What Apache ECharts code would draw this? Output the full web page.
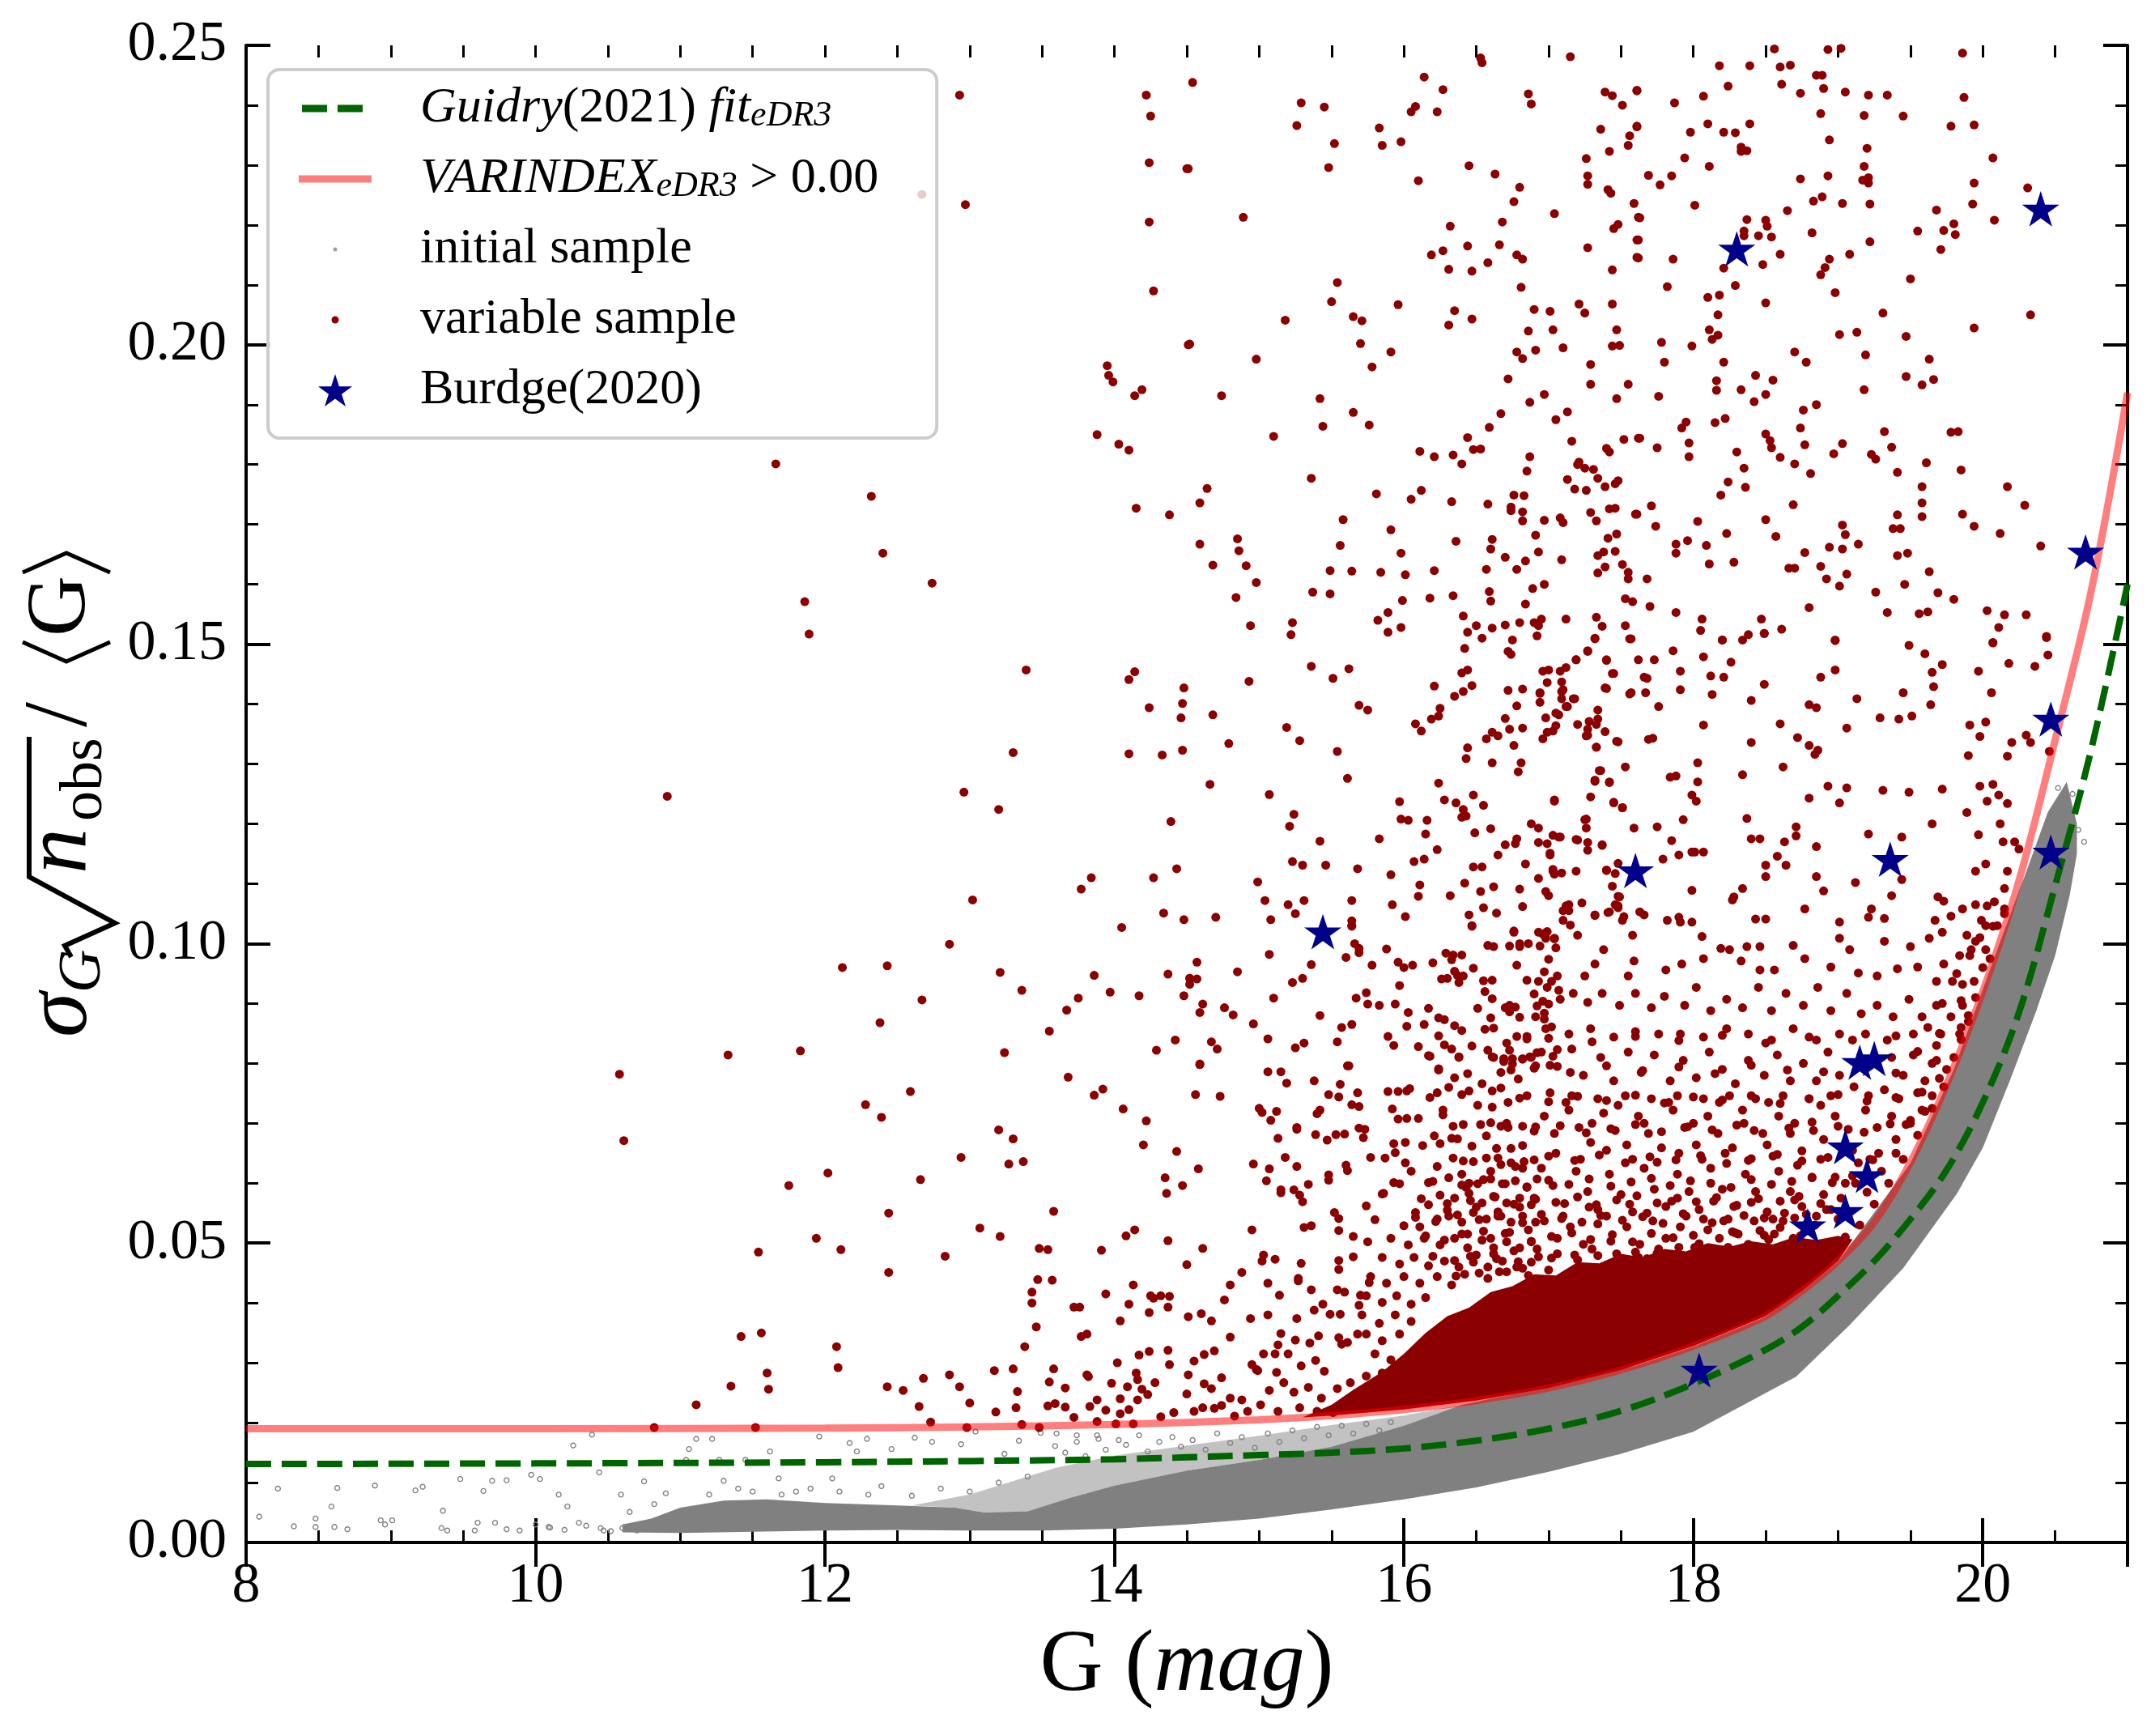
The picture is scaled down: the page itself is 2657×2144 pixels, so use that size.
<!DOCTYPE html>
<html><head><meta charset="utf-8">
<script src="https://cdn.jsdelivr.net/npm/echarts@6/dist/echarts.min.js"></script>
<style>html,body{margin:0;padding:0;background:#fff}#c{width:2657px;height:2144px}</style>
</head><body><div id="c"></div>
<script>
// ---------------- DATA ----------------
const xTicks = [8, 10, 12, 14, 16, 18, 20];
const yTicks = [0.00, 0.05, 0.10, 0.15, 0.20, 0.25];

// fitted curves
const redLineG = [8, 10, 12, 13, 14, 15, 15.5, 16, 16.5, 17, 17.5, 18, 18.5, 18.75, 19, 19.25, 19.5, 19.75, 20, 20.25, 20.5, 20.75, 21];
const redLineV = [0.0190, 0.0190, 0.0191, 0.0193, 0.0197, 0.0205, 0.0212, 0.0222, 0.0237, 0.0258, 0.0288, 0.0328, 0.0378, 0.0420, 0.0470, 0.0535, 0.0635, 0.0765, 0.0920, 0.1105, 0.1340, 0.1590, 0.1920];
const greenLineG = [8, 10, 12, 13, 14, 15, 15.5, 16, 16.5, 17, 17.5, 18, 18.5, 18.75, 19, 19.25, 19.5, 19.75, 20, 20.25, 20.5, 20.75, 21];
const greenLineV = [0.0131, 0.0132, 0.0134, 0.0136, 0.0139, 0.0146, 0.0150, 0.0157, 0.0170, 0.0190, 0.0220, 0.0265, 0.0322, 0.0360, 0.0412, 0.0470, 0.0540, 0.0622, 0.0735, 0.0885, 0.1097, 0.1325, 0.1600];

// Burdge (2020) objects
const burdgeG = [15.44, 17.60, 18.04, 18.30, 18.79, 19.05, 19.05, 19.15, 19.20, 19.25, 19.36, 20.40, 20.47, 20.47, 20.71];
const burdgeV = [0.1020, 0.1122, 0.0288, 0.2160, 0.0529, 0.0553, 0.0661, 0.0802, 0.0613, 0.0808, 0.1141, 0.2227, 0.1375, 0.1153, 0.1654];

// outline of the saturated part of the initial-sample cloud
const grayLower = [[10.6,0.0017],[11,0.0016],[11.5,0.0018],[12,0.0020],[12.5,0.0021],[13,0.0020],[13.5,0.0020],[14,0.0023],[14.5,0.0030],[15,0.0040],[15.5,0.0055],[16,0.0072],[16.5,0.0092],[17,0.0118],[17.5,0.0148],[18.0,0.0185],[18.34,0.0229],[18.71,0.0277],[19.08,0.0363],[19.45,0.0458],[19.82,0.0582],[20.0,0.0659],[20.19,0.0773],[20.37,0.0888],[20.5,0.0980],[20.6,0.1080],[20.65,0.1150]];
const grayTop = [[10.6,0.0030],[10.8,0.0040],[11.0,0.0058],[11.3,0.0070],[11.6,0.0072],[12.0,0.0066],[12.5,0.0062],[12.9,0.0058],[13.1,0.0050],[13.4,0.0052],[13.7,0.0075],[14.0,0.0095],[14.5,0.0120],[15.0,0.0138],[15.5,0.0160],[16.0,0.0195],[16.4,0.0230],[16.8,0.0250],[17.2,0.0270],[17.6,0.0295],[18.0,0.0327],[18.5,0.0377],[19.0,0.0469],[19.5,0.0633],[19.8,0.0790],[20.1,0.0990],[20.3,0.1120],[20.45,0.1220],[20.58,0.1270],[20.65,0.1200]];
const grayMidTop = [[12.6,0.0062],[13.0,0.0080],[13.6,0.0125],[14.0,0.0145],[14.5,0.0162],[15.0,0.0178],[15.5,0.0196],[16.0,0.0212],[16.4,0.0230]];
// outline of the saturated core of the variable sample
const redCoreTop = [[15.3,0.0209],[15.5,0.0230],[15.65,0.0255],[15.85,0.0285],[16.0,0.0315],[16.15,0.0350],[16.3,0.0378],[16.45,0.0392],[16.6,0.0418],[16.75,0.0428],[16.9,0.0448],[17.05,0.0446],[17.2,0.0468],[17.35,0.0466],[17.5,0.0482],[17.65,0.0476],[17.8,0.0490],[17.95,0.0486],[18.1,0.0500],[18.25,0.0494],[18.4,0.0503],[18.55,0.0498],[18.7,0.0510],[18.85,0.0505],[19.0,0.0512],[19.1,0.0506]];

// sparse initial-sample points
const grayDots = [[8.09,0.0043],[8.22,0.0090],[8.33,0.0027],[8.48,0.0040],[8.48,0.0026],[8.61,0.0026],[8.63,0.0091],[8.59,0.0060],[8.70,0.0022],[8.89,0.0095],[8.93,0.0037],[8.96,0.0030],[9.01,0.0037],[9.17,0.0087],[9.22,0.0093],[9.35,0.0024],[9.36,0.0053],[9.39,0.0020],[9.48,0.0106],[9.58,0.0020],[9.60,0.0033],[9.64,0.0086],[9.70,0.0103],[9.80,0.0104],[9.72,0.0033],[9.80,0.0022],[9.89,0.0020],[9.97,0.0113],[10.03,0.0106],[10.00,0.0030],[10.09,0.0026],[10.16,0.0080],[10.22,0.0060],[10.26,0.0162],[10.30,0.0033],[10.39,0.0180],[10.44,0.0117],[10.47,0.0020],[10.59,0.0080],[10.65,0.0051],[10.70,0.0020],[10.75,0.0102],[10.82,0.0064],[10.90,0.0082],[10.97,0.0027],[11.04,0.0138],[11.06,0.0156],[11.11,0.0173],[11.22,0.0173],[11.27,0.0138],[11.30,0.0103],[11.45,0.0138],[11.62,0.0152],[11.68,0.0107],[11.80,0.0085],[11.96,0.0177],[12.05,0.0107],[12.17,0.0166],[12.22,0.0152],[12.29,0.0173],[12.39,0.0094],[12.46,0.0156],[12.62,0.0175],[12.74,0.0168],[12.94,0.0164],[13.04,0.0185],[13.24,0.0148],[13.34,0.0170],[13.49,0.0183],[13.59,0.0161],[13.74,0.0179],[13.89,0.0173],
[10.10,0.0025],[10.20,0.0021],[10.35,0.0028],[10.45,0.0024],[10.52,0.0019],[10.60,0.0024],[10.85,0.0032],[11.00,0.0045],[11.20,0.0080],[11.40,0.0090],[11.50,0.0085],[11.70,0.0080],[11.90,0.0090],[12.10,0.0085],[12.30,0.0080],[12.60,0.0078],[12.80,0.0090],[13.00,0.0085],[13.20,0.0100],[13.40,0.0110],
[13.60,0.0182],[13.66,0.0150],[13.74,0.0168],[13.80,0.0144],[13.88,0.0179],[13.94,0.0155],[14.03,0.0171],[14.08,0.0163],[14.17,0.0179],[14.23,0.0152],[14.31,0.0168],[14.40,0.0176],[14.46,0.0160],[14.54,0.0171],[14.63,0.0155],[14.71,0.0182],[14.80,0.0166],[14.88,0.0176],[14.97,0.0158],[15.06,0.0182],[15.14,0.0168],[15.23,0.0187],[15.31,0.0174],[15.40,0.0193],[15.48,0.0179],[15.57,0.0195],[15.65,0.0182],[15.74,0.0198],[15.83,0.0187],[15.91,0.0201],
[20.55,0.1180],[20.58,0.1230],[20.62,0.1250],[20.60,0.1140],[20.66,0.1190],[20.70,0.1170],[20.52,0.1260],[20.48,0.1110],[20.42,0.1060],[20.35,0.0990]];

// variable-sample points, by region of the plot
const varDotsLeft = [[12.93,0.2417],[12.97,0.2234],[12.67,0.2251],[14.22,0.2417],[14.25,0.2382],[14.24,0.2304],[14.50,0.2294],[14.24,0.2205],[14.27,0.2090],[14.51,0.2000],[13.95,0.1965],[13.96,0.1949],[13.99,0.1938],[14.14,0.1915],[14.19,0.1925],[13.88,0.1850],[14.03,0.1834],[14.10,0.1824],[14.15,0.1727],[14.38,0.1716],[11.66,0.1801],[12.32,0.1747],[12.40,0.1652],[12.74,0.1602],[11.86,0.1571],[11.89,0.1517],[13.39,0.1457],[14.10,0.1441],[14.14,0.1454],[14.48,0.1427],[14.47,0.1401],[14.24,0.1394],[14.46,0.1377],[13.30,0.1319],[14.10,0.1317],[14.33,0.1315],[14.47,0.1323],[10.91,0.1246],[12.96,0.1253],[13.20,0.1224],[14.39,0.1204],[14.43,0.1125],[14.27,0.1110],[13.84,0.1110],[13.77,0.1091],[13.02,0.1073],[14.34,0.1051],[14.05,0.1027],[14.48,0.1040],[12.86,0.0999],[12.12,0.0960],[12.43,0.0963],[13.21,0.0952],[13.36,0.0922],[12.67,0.0906],[13.86,0.0947],[13.97,0.0919],[14.17,0.0913],[14.37,0.0949],[14.52,0.0942],[14.48,0.0913],[13.75,0.0909],[13.67,0.0889],[12.38,0.0868],[13.55,0.0854],[11.33,0.0814],[11.83,0.0821],[13.24,0.0818],[14.29,0.0822],[14.42,0.0839],[10.58,0.0782],[10.61,0.0671],[13.68,0.0777],[13.92,0.0757],[13.86,0.0747],[14.06,0.0724],[14.22,0.0704],[14.20,0.0664],[14.43,0.0653],[12.59,0.0753],[12.28,0.0731],[12.39,0.0710],[13.20,0.0689],[13.30,0.0674],[13.37,0.0636],[13.27,0.0632],[12.94,0.0643],[12.02,0.0617],[11.75,0.0596],[12.66,0.0606],[14.35,0.0609],[14.36,0.0583],[14.47,0.0596],[12.44,0.0550],[13.58,0.0553],[13.07,0.0525],[13.21,0.0511],[11.94,0.0508],[12.11,0.0489],[11.54,0.0485],[12.83,0.0478],[13.48,0.0491],[13.54,0.0489],[13.91,0.0488],[14.08,0.0512],[14.14,0.0522],[14.37,0.0504],[14.50,0.0464],[12.44,0.0451],[13.47,0.0439],[13.57,0.0438],[13.43,0.0418],[13.43,0.0400],[13.94,0.0415],[14.13,0.0430],[14.25,0.0412],[14.27,0.0408],[14.32,0.0412],[14.38,0.0411],[14.10,0.0398],[14.24,0.0384],[14.37,0.0393],[13.72,0.0393],[13.76,0.0393],[13.46,0.0360],[14.04,0.0370],[14.51,0.0377],[11.42,0.0344],[11.56,0.0350],[12.08,0.0327],[13.38,0.0327],[13.77,0.0344],[13.81,0.0348],[14.02,0.0300],[14.17,0.0313],[14.24,0.0319],[14.37,0.0321],[14.38,0.0297],[11.60,0.0283],[12.09,0.0292],[12.68,0.0274],[12.86,0.0280],[13.17,0.0287],[13.30,0.0290],[13.58,0.0290],[13.81,0.0280],[14.15,0.0283],[14.51,0.0280]];
const varDotsLow = [[10.82,0.0192],[11.11,0.0230],[11.35,0.0261],[11.52,0.0192],[11.61,0.0256],[12.43,0.0260],[12.54,0.0254],[12.93,0.0260],[12.65,0.0227],[13.00,0.0233],[12.73,0.0201],[12.98,0.0192],[13.18,0.0218],[13.33,0.0252],[13.32,0.0225],[13.36,0.0197],[13.48,0.0192],[13.55,0.0268],[13.54,0.0228],[13.59,0.0232],[13.66,0.0226],[13.83,0.0227],[13.88,0.0238],[13.94,0.0221],[14.04,0.0215],[14.10,0.0222],[14.16,0.0238],[14.19,0.0256],[14.23,0.0247],[14.28,0.0267],[14.50,0.0248],[13.72,0.0209],[13.88,0.0202],[14.01,0.0198],[14.13,0.0198],[14.32,0.0210],[14.41,0.0217],[13.98,0.0266],[14.09,0.0260],[13.66,0.0258],[13.82,0.0277],[14.04,0.0240],[14.16,0.0272]];
const varDotsMid = [[14.59,0.0798],[14.56,0.0748],[14.73,0.0745],[14.58,0.0624],[14.61,0.0491],[14.55,0.0303],[14.62,0.0314],[14.69,0.0320],[14.80,0.0343],[14.60,0.0382],[14.67,0.0370],[14.62,0.0265],[14.67,0.0257],[14.74,0.0275],[14.80,0.0241],[14.88,0.0238],[14.95,0.0297],[14.98,0.0289],[14.74,0.0229],[14.55,0.0219],[14.61,0.0225],[14.69,0.0224],[14.83,0.0211],[14.92,0.0219],[14.76,0.0405],[14.80,0.0430],[14.88,0.0451],[14.94,0.0374],
[15.06,0.0786],[15.15,0.0786],[15.19,0.0767],[15.38,0.0771],[15.56,0.0765],[15.61,0.0796],[15.48,0.0748],[15.55,0.0744],[15.68,0.0751],[15.64,0.0731],[15.69,0.0728],[15.42,0.0722],[15.40,0.0716],[15.00,0.0725],[15.02,0.0718],[15.12,0.0720],[15.08,0.0705],[15.26,0.0693],[15.26,0.0690],[15.13,0.0675],[15.39,0.0681],[15.47,0.0672],[15.53,0.0681],[15.59,0.0682],[15.69,0.0692],[15.73,0.0690],[15.72,0.0676],[15.18,0.0643],[14.96,0.0632],[15.07,0.0624],[15.26,0.0628],[15.60,0.0630],[15.61,0.0621],[15.48,0.0614],[15.48,0.0605],[15.05,0.0604],[15.15,0.0589],[15.15,0.0584],[15.24,0.0589],[15.28,0.0580],[15.30,0.0569],[15.34,0.0598],[15.74,0.0562],[15.52,0.0551],[15.55,0.0541],[14.95,0.0522],[15.31,0.0526],[15.36,0.0529],[15.55,0.0521],[15.65,0.0511],[15.80,0.0539],[15.86,0.0583],[15.03,0.0480],[15.11,0.0473],[15.02,0.0470],[15.29,0.0466],[15.55,0.0471],[15.65,0.0477],[15.75,0.0502],[15.55,0.0456],[15.27,0.0441],[15.27,0.0437],[15.06,0.0433],[15.14,0.0413],[15.36,0.0422],[15.54,0.0422],[15.59,0.0418],[15.76,0.0434],[15.70,0.0413],[15.69,0.0396],[15.06,0.0380],[15.26,0.0374],[15.38,0.0388],[15.44,0.0398],[15.49,0.0381],[15.56,0.0381],[15.15,0.0349],[15.25,0.0338],[15.35,0.0333],[15.41,0.0345],[15.55,0.0342],[15.57,0.0331],[15.68,0.0348],[15.61,0.0334],[15.03,0.0315],[15.13,0.0330],[15.11,0.0315],[15.20,0.0315],[15.29,0.0295],[15.39,0.0304],[15.45,0.0286],[14.99,0.0287],[15.12,0.0284],[15.17,0.0267],[15.07,0.0254],[15.24,0.0251],[15.34,0.0259],[15.43,0.0241],[15.54,0.0257],[15.63,0.0267],[15.74,0.0278],[15.80,0.0251],[15.68,0.0235],[15.57,0.0230],[15.28,0.0225],[15.01,0.0230],[15.13,0.0219],[15.40,0.0219],[15.51,0.0217],[15.74,0.0225],
[15.89,0.0753],[15.96,0.0753],[16.02,0.0754],[16.04,0.0758],[15.92,0.0724],[15.96,0.0707],[16.02,0.0708],[16.10,0.0708],[16.18,0.0743],[16.23,0.0751],[16.17,0.0813],[16.24,0.0789],[16.38,0.0810],[16.35,0.0776],[16.44,0.0783],[16.31,0.0760],[16.40,0.0748],[16.45,0.0754],[16.54,0.0766],[16.61,0.0754],[16.61,0.0811],[16.69,0.0808],[16.75,0.0808],[16.82,0.0807],[16.88,0.0810],[16.67,0.0785],[16.74,0.0789],[16.67,0.0759],[16.79,0.0774],[16.72,0.0735],[16.85,0.0746],[16.61,0.0727],[16.51,0.0730],[16.27,0.0722],[16.27,0.0714],[16.34,0.0695],[16.41,0.0698],[16.53,0.0698],[16.60,0.0701],[16.67,0.0695],[16.71,0.0700],[16.82,0.0695],[16.91,0.0694],[16.21,0.0679],[16.25,0.0666],[16.33,0.0675],[16.37,0.0674],[16.47,0.0662],[16.57,0.0679],[16.64,0.0658],[16.74,0.0658],[16.82,0.0663],[16.13,0.0663],[16.01,0.0668],[15.93,0.0666],[15.94,0.0651],[15.87,0.0642],[15.77,0.0643],[16.01,0.0634],[16.05,0.0620],[16.23,0.0628],[16.34,0.0642],[16.41,0.0637],[16.48,0.0636],[16.57,0.0642],[16.67,0.0631],[16.74,0.0634],[16.82,0.0625],[16.90,0.0639],[15.93,0.0601],[15.97,0.0599],[15.85,0.0582],[16.17,0.0601],[16.31,0.0609],[16.40,0.0615],[16.43,0.0593],[16.51,0.0599],[16.60,0.0607],[16.68,0.0599],[16.77,0.0604],[16.85,0.0593],[16.92,0.0607],[16.25,0.0580],[16.35,0.0575],[16.45,0.0583],[16.54,0.0567],[16.63,0.0577],[16.71,0.0567],[16.80,0.0575],[16.88,0.0564],[16.08,0.0551],[16.17,0.0564],[16.00,0.0529],[16.11,0.0527],[16.23,0.0540],[16.31,0.0545],[16.40,0.0535],[16.48,0.0551],[16.57,0.0540],[16.65,0.0545],[16.74,0.0535],[16.82,0.0545],[16.91,0.0535],[15.91,0.0508],[16.03,0.0497],[16.14,0.0508],[16.25,0.0497],[16.35,0.0508],[16.44,0.0492],[16.54,0.0505],[16.62,0.0492],[16.71,0.0502],[16.80,0.0492],[16.88,0.0502],[15.85,0.0476],[15.97,0.0465],[16.07,0.0476],[16.17,0.0462],[16.28,0.0470],[16.38,0.0460],[16.48,0.0468],[16.58,0.0460],[16.68,0.0470],[16.78,0.0460],[16.88,0.0468],[15.77,0.0444],[15.88,0.0433],[16.00,0.0444],[16.11,0.0433],[16.23,0.0444],[16.33,0.0430],[15.74,0.0412],[15.85,0.0401],[15.95,0.0412],[16.05,0.0398],[16.15,0.0409],[15.71,0.0380],[15.83,0.0366],[15.94,0.0380],[16.05,0.0369],[15.74,0.0348],[15.85,0.0337],[15.97,0.0348],[15.80,0.0315],[15.91,0.0305],[15.85,0.0283],[15.97,0.0267],[15.77,0.0251],[15.88,0.0241]];
const varDotsUpper = [[14.57,0.0969],[14.52,0.0942],[14.57,0.0941],[14.52,0.0932],[14.85,0.0953],[15.07,0.0982],[15.10,0.0909],[15.23,0.0935],[15.30,0.0942],[15.36,0.0965],[14.61,0.0899],[14.59,0.0885],[14.76,0.0893],[14.82,0.0881],[14.96,0.0866],[15.42,0.0880],[14.67,0.0836],[14.71,0.0824],[15.06,0.0841],[15.25,0.0826],[15.31,0.0834],[14.59,0.0799],[15.54,0.0836],[15.57,0.0860],[15.64,0.0865],[15.62,0.0796],[15.64,0.1030],[15.66,0.1000],[15.69,0.0992],[15.69,0.0985],[15.60,0.0977],[15.88,0.0991],[15.78,0.0964],[15.96,0.0969],[16.00,0.0960],[16.06,0.0964],[15.97,0.0930],[15.67,0.0909],[15.74,0.0918],[15.75,0.0899],[15.83,0.0897],[15.94,0.0899],[16.03,0.0885],[16.17,0.0892],[16.02,0.0862],[16.14,0.0865],[15.89,0.0845],[15.93,0.0830],[16.10,0.0828],[16.18,0.0812],[16.24,0.0791],[16.24,0.0876],[16.28,0.0873],[16.35,0.0863],[16.40,0.0855],[16.24,0.0846],[16.28,0.0831],[16.33,0.0824],[16.38,0.0811],[16.47,0.0829],[16.20,0.0968],[16.29,0.0984],[16.34,0.0981],[16.33,0.0973],[16.40,0.0981],[16.47,0.1030],[16.48,0.0959],[16.26,0.0941],[16.30,0.0942],[16.35,0.0954],[16.37,0.0947],[16.41,0.0946],[16.38,0.0935],[16.55,0.0938],[16.61,0.0939],[16.56,0.0920],[16.61,0.0908],[16.51,0.0892],[16.60,0.0876],[16.62,0.0859],[16.56,0.0857],[16.58,0.0822],[16.62,0.0810],[16.58,0.0997],[16.62,0.0995],[16.73,0.0996],[16.76,0.1019],[16.80,0.0995],[16.80,0.1000],[16.86,0.1000],[16.94,0.0996],[16.96,0.1016],[16.99,0.1020],[17.04,0.1008],[17.05,0.0993],[17.00,0.0974],[16.78,0.0964],[16.97,0.0953],[16.85,0.0939],[17.02,0.0937],[16.90,0.0916],[16.96,0.0904],[17.00,0.0899],[16.92,0.0896],[16.70,0.0893],[16.73,0.0897],[16.77,0.0894],[16.73,0.0886],[16.80,0.0877],[16.91,0.0878],[16.97,0.0884],[16.97,0.0874],[17.02,0.0861],[16.78,0.0845],[16.85,0.0845],[16.85,0.0841],[16.71,0.0834],[16.73,0.0822],[16.69,0.0803],[16.75,0.0799],[16.82,0.0808],[16.87,0.0811],[16.92,0.0818],[16.91,0.0796],[17.01,0.0797],[17.03,0.0812],[17.06,0.0823],[17.07,0.0922],
[14.54,0.2438],[15.29,0.2404],[15.45,0.2397],[15.26,0.2366],[15.52,0.2336],[15.48,0.2296],[14.51,0.2294],[14.89,0.2213],[15.83,0.2362],[15.85,0.2333],[15.98,0.2339],[16.14,0.2447],[16.27,0.2426],[16.08,0.2398],[16.05,0.2389],[16.23,0.2389],[16.53,0.2479],[16.54,0.2471],[17.15,0.2481],[16.86,0.2419],[16.88,0.2402],[17.39,0.2422],[17.44,0.2416],[17.51,0.2400],[17.61,0.2424],[17.61,0.2364],[17.36,0.2360],[17.42,0.2323],[17.56,0.2349],[17.55,0.2333],[17.26,0.2311],[17.27,0.2282],[17.27,0.2268],[17.41,0.2259],[17.43,0.2253],[17.59,0.2236],[17.62,0.2213],[17.45,0.2194],[17.48,0.2201],[17.61,0.2175],[17.61,0.2146],[17.27,0.2162],[16.45,0.2299],[16.63,0.2285],[16.80,0.2263],[16.76,0.2239],[17.04,0.2219],[16.68,0.2205],[16.32,0.2198],[16.10,0.2274],[16.66,0.2167],[16.78,0.2150],[16.82,0.2143],[16.44,0.2165],[16.27,0.2157],[16.19,0.2150],[16.31,0.2126],[16.47,0.2123],[16.58,0.2137],[16.81,0.2096],[17.44,0.2125],[15.54,0.2104],[15.50,0.2072],[15.18,0.2041],[15.96,0.2067],[15.65,0.2047],[15.71,0.2040],[15.70,0.2002],[16.35,0.2057],[16.31,0.2033],[16.47,0.2043],[16.90,0.2059],[17.01,0.2056],[17.21,0.2068],[17.25,0.2053],[17.44,0.2068],[16.86,0.2023],[17.03,0.2025],[17.47,0.2025],[17.44,0.1998],[17.49,0.1999],[16.91,0.1991],[16.78,0.1988],[16.82,0.1977],[17.10,0.1995],[17.29,0.1967],[17.29,0.1934],[17.55,0.1934],[17.47,0.1910],[16.72,0.1943],[16.87,0.1904],[16.97,0.1917],[17.05,0.1875],[17.13,0.1888],[16.67,0.1885],[16.59,0.1862],[16.44,0.1845],[16.48,0.1825],[16.53,0.1826],[17.16,0.1839],[17.40,0.1827],[17.42,0.1821],[17.52,0.1842],[17.62,0.1844],[16.87,0.1813],[16.85,0.1789],[17.21,0.1804],[17.20,0.1800],[17.25,0.1794],[17.31,0.1792],[17.34,0.1777],[17.39,0.1763],[17.46,0.1768],[17.48,0.1773],[17.13,0.1775],[17.18,0.1759],[17.26,0.1757],[16.76,0.1749],[16.83,0.1748],[16.74,0.1729],[16.74,0.1723],[16.82,0.1721],[16.82,0.1706],[16.58,0.1734],[16.33,0.1738],[16.40,0.1801],[16.34,0.1816],[16.21,0.1813],[16.11,0.1822],[16.12,0.1757],[16.05,0.1742],[15.81,0.1751],[15.91,0.1988],[15.78,0.1963],[15.42,0.1910],[15.65,0.1887],[15.44,0.1864],[15.76,0.1866],[15.10,0.1847],[14.74,0.1915],[14.98,0.1976],[14.52,0.2001],[15.36,0.1777],[14.64,0.1760],[14.59,0.1736],[15.58,0.1708],[15.91,0.1691],[16.97,0.1707],[17.08,0.1711],[17.10,0.1703],[17.29,0.1720],[17.33,0.1706],[17.42,0.1726],[17.46,0.1727],[17.60,0.1717],[16.91,0.1682],[16.61,0.1675],[16.60,0.1659],[16.36,0.1672],[15.98,0.1652],[15.56,0.1665],[14.59,0.1667],[14.85,0.1676],[14.86,0.1656],[14.68,0.1632],[14.91,0.1631],[14.98,0.1603],[14.84,0.1578],[15.37,0.1587],[15.49,0.1623],[15.49,0.1584],[15.64,0.1622],[15.84,0.1620],[16.01,0.1616],[16.21,0.1623],[16.57,0.1625],[16.70,0.1645],[16.78,0.1625],[16.84,0.1639],[16.93,0.1654],[17.09,0.1641],[17.34,0.1648],[17.38,0.1654],[17.46,0.1655],[17.51,0.1633],[17.55,0.1620],[17.55,0.1609],[17.34,0.1619],[17.39,0.1629],[17.41,0.1677],[17.47,0.1684],[16.89,0.1593],[16.97,0.1600],[16.59,0.1588],[16.60,0.1572],[16.34,0.1581],[16.18,0.1577],[15.99,0.1573],[16.84,0.1567],[17.53,0.1576],[17.58,0.1571],[16.41,0.1547],[16.50,0.1531],[16.44,0.1520],[16.61,0.1527],[16.70,0.1532],[16.80,0.1536],[16.90,0.1536],[16.95,0.1542],[16.93,0.1531],[16.92,0.1514],[17.12,0.1542],[17.33,0.1545],[17.37,0.1530],[17.53,0.1531],[17.57,0.1509],[17.32,0.1510],[16.75,0.1507],[16.54,0.1510],[16.42,0.1493],[15.82,0.1540],[15.89,0.1553],[15.89,0.1520],[15.98,0.1528],[15.23,0.1536],[15.22,0.1516],[14.94,0.1531],[15.36,0.1463],[15.62,0.1459],[15.51,0.1443],[14.93,0.1438],[16.72,0.1488],[16.74,0.1483],[17.19,0.1474],[17.27,0.1488],[17.40,0.1473],[17.44,0.1451],[17.12,0.1461],[17.00,0.1457],[16.44,0.1457],[16.40,0.1452],[16.47,0.1431],[16.41,0.1421],[16.35,0.1413],[16.21,0.1430],[16.72,0.1423],[16.82,0.1425],[16.94,0.1418],[16.94,0.1403],[16.99,0.1436],[17.09,0.1437],[17.09,0.1421],[17.09,0.1409],[17.13,0.1396],[17.18,0.1409],[17.39,0.1427],[17.57,0.1419],[16.78,0.1397],[16.98,0.1377],[17.07,0.1382],[17.34,0.1390],[17.33,0.1366],[17.28,0.1371],[17.27,0.1358],[17.20,0.1366],[17.39,0.1354],[17.26,0.1347],[17.48,0.1337],[17.33,0.1328],[17.05,0.1364],[16.99,0.1353],[16.96,0.1342],[16.82,0.1360],[16.73,0.1358],[16.70,0.1376],[16.76,0.1331],[16.81,0.1302],[16.79,0.1287],[16.65,0.1347],[16.61,0.1353],[16.57,0.1342],[16.61,0.1302],[16.43,0.1309],[16.44,0.1327],[16.25,0.1393],[16.24,0.1380],[16.19,0.1375],[16.08,0.1367],[16.12,0.1355],[15.75,0.1390],[15.69,0.1398],[15.19,0.1361],[15.28,0.1339],[15.54,0.1321],[14.68,0.1382],[14.79,0.1334],[14.66,0.1266],[15.07,0.1249],[15.61,0.1276],[15.24,0.1216],[15.21,0.1196],[15.42,0.1171],[15.23,0.1137],[15.30,0.1131],[15.46,0.1131],[14.99,0.1103],[15.04,0.1072],[15.20,0.1065],[15.25,0.1050],[15.31,0.1072],[15.08,0.1040],[14.70,0.1044],[15.64,0.1072],[15.64,0.1038],[15.64,0.1029],[15.68,0.1125],[15.83,0.1175],[15.91,0.1115],[15.92,0.1065],[15.97,0.1237],[15.98,0.1208],[16.03,0.1206],[16.16,0.1206],[16.15,0.1183],[16.23,0.1157],[16.24,0.1268],[16.28,0.1240],[16.36,0.1235],[16.41,0.1224],[16.40,0.1211],[16.43,0.1213],[16.48,0.1248],[16.55,0.1231],[16.49,0.1185],[16.60,0.1192],[16.65,0.1148],[16.70,0.1165],[16.77,0.1167],[16.78,0.1175],[16.88,0.1200],[16.93,0.1193],[17.03,0.1181],[17.08,0.1178],[17.04,0.1240],[16.93,0.1169],[16.99,0.1167],[17.01,0.1148],[17.03,0.1124],[17.09,0.1118],[17.19,0.1174],[17.27,0.1169],[17.27,0.1156],[17.26,0.1208],[17.26,0.1193],[17.29,0.1245],[17.32,0.1271],[17.36,0.1289],[17.42,0.1269],[17.45,0.1236],[17.51,0.1227],[17.37,0.1165],[17.40,0.1122],[17.46,0.1117],[17.48,0.1134],[17.44,0.1096],[17.48,0.1079],[17.46,0.1065],[17.48,0.1060],[17.52,0.1045],[17.51,0.1039],[17.32,0.1047],[17.41,0.1052],[17.14,0.1065],[17.14,0.1055],[17.10,0.1055],[17.15,0.1031],[17.04,0.1116],[16.98,0.1087],[17.00,0.1080],[16.93,0.1109],[16.82,0.1062],[16.80,0.1091],[16.84,0.1133],[16.62,0.1095],[16.53,0.1087],[16.55,0.1060],[16.64,0.1051],[16.48,0.1128],[16.54,0.1128],[16.42,0.1101],[16.45,0.1048],[16.47,0.1029],[16.32,0.1080],[16.14,0.1141],[16.11,0.1098],[16.10,0.1079],[16.07,0.1137],[16.01,0.1045],[16.76,0.1021],[16.98,0.1018],[17.04,0.1009]];
const varDotsRight = [[17.61,0.2425],[17.61,0.2365],[17.87,0.2404],[18.07,0.2415],[18.18,0.2466],[18.39,0.2466],[18.24,0.2432],[18.56,0.2494],[18.60,0.2464],[18.67,0.2467],[18.61,0.2435],[18.85,0.2450],[18.89,0.2450],[18.90,0.2428],[18.93,0.2493],[19.02,0.2495],[18.74,0.2420],[19.05,0.2422],[19.21,0.2417],[19.34,0.2417],[19.86,0.2487],[19.87,0.2413],[19.18,0.2383],[19.45,0.2382],[18.88,0.2386],[19.78,0.2365],[19.94,0.2367],[18.10,0.2369],[18.39,0.2369],[17.98,0.2355],[18.21,0.2355],[18.29,0.2354],[18.33,0.2330],[18.33,0.2323],[18.37,0.2324],[17.94,0.2312],[18.11,0.2298],[18.94,0.2342],[19.20,0.2328],[19.18,0.2298],[20.07,0.2312],[17.69,0.2283],[17.85,0.2282],[17.77,0.2267],[18.74,0.2277],[18.93,0.2282],[19.17,0.2275],[19.21,0.2279],[19.21,0.2270],[19.94,0.2270],[20.31,0.2262],[18.01,0.2233],[18.83,0.2240],[18.89,0.2247],[19.03,0.2236],[19.22,0.2235],[19.93,0.2235],[17.63,0.2212],[18.37,0.2209],[18.50,0.2208],[18.51,0.2198],[18.65,0.2224],[18.35,0.2190],[18.35,0.2182],[18.45,0.2182],[18.54,0.2180],[18.82,0.2187],[19.22,0.2172],[19.68,0.2225],[19.55,0.2190],[19.73,0.2191],[19.80,0.2202],[19.81,0.2184],[19.71,0.2159],[20.08,0.2208],[17.62,0.2175],[17.62,0.2145],[17.86,0.2143],[18.21,0.2128],[18.48,0.2134],[18.60,0.2151],[18.94,0.2143],[18.91,0.2129],[18.88,0.2117],[19.08,0.2151],[18.29,0.2099],[17.82,0.2097],[18.10,0.2079],[18.18,0.2083],[18.50,0.2070],[18.98,0.2087],[19.50,0.2110],[19.31,0.2053],[20.33,0.2050],[19.94,0.2028],[18.17,0.2050],[18.11,0.2025],[18.17,0.2016],[18.13,0.2009],[17.78,0.2004],[17.99,0.1998],[19.01,0.2017],[19.13,0.2021],[19.47,0.2014],[19.19,0.1983],[18.70,0.1988],[18.78,0.1971],[18.21,0.1971],[17.80,0.1971],[19.63,0.1976],[18.43,0.1949],[18.55,0.1941],[18.16,0.1940],[18.16,0.1924],[18.33,0.1925],[18.50,0.1917],[18.42,0.1905],[19.18,0.1925],[19.47,0.1947],[19.58,0.1933],[19.66,0.1942],[17.76,0.1914],[18.76,0.1891],[18.85,0.1900],[18.22,0.1877],[18.15,0.1870],[17.95,0.1871],[17.92,0.1861],[17.63,0.1844],[17.75,0.1828],[17.97,0.1836],[17.97,0.1813],[18.30,0.1821],[18.50,0.1851],[18.53,0.1840],[18.54,0.1828],[18.74,0.1861],[18.77,0.1833],[18.60,0.1812],[18.35,0.1794],[18.70,0.1801],[18.81,0.1785],[18.97,0.1818],[19.03,0.1835],[19.23,0.1817],[19.26,0.1809],[19.32,0.1855],[19.37,0.1829],[19.41,0.1787],[19.61,0.1803],[19.78,0.1854],[19.83,0.1855],[19.85,0.1791],[18.24,0.1771],[18.36,0.1762],[18.19,0.1749],[19.58,0.1763],[19.58,0.1736],[19.58,0.1713],[20.17,0.1763],[20.29,0.1732],[19.86,0.1717],[19.94,0.1697],[20.12,0.1685],[20.40,0.1664],[17.71,0.1731],[17.61,0.1717],[17.74,0.1697],[18.03,0.1705],[18.50,0.1708],[18.69,0.1733],[19.03,0.1699],[19.05,0.1683],[19.41,0.1716],[19.38,0.1693],[19.43,0.1693],[18.23,0.1685],[18.57,0.1680],[17.88,0.1667],[17.88,0.1652],[17.96,0.1673],[18.09,0.1665],[18.11,0.1634],[18.28,0.1637],[18.77,0.1653],[18.94,0.1662],[19.03,0.1659],[19.14,0.1667],[19.41,0.1648],[19.48,0.1652],[18.66,0.1627],[18.70,0.1627],[18.88,0.1630],[18.92,0.1609],[19.01,0.1597],[19.06,0.1617],[19.46,0.1600],[19.63,0.1621],[19.69,0.1586],[19.80,0.1575],[19.26,0.1587],[17.68,0.1609],[17.70,0.1563],[17.88,0.1553],[18.06,0.1542],[18.05,0.1523],[18.20,0.1507],[18.38,0.1516],[18.47,0.1542],[18.49,0.1518],[18.61,0.1525],[18.80,0.1561],[18.98,0.1507],[19.34,0.1553],[19.56,0.1551],[19.62,0.1554],[20.03,0.1556],[20.15,0.1549],[20.11,0.1528],[20.30,0.1549],[20.07,0.1503],[20.44,0.1513]];
const varDotsDense = [[17.32,0.1509],[17.56,0.1509],[18.20,0.1507],[18.34,0.1507],[18.49,0.1518],[18.98,0.1506],[19.49,0.1498],[19.60,0.1484],[20.07,0.1502],[20.44,0.1511],[20.45,0.1482],[17.27,0.1489],[17.19,0.1474],[17.40,0.1474],[17.62,0.1474],[17.73,0.1474],[17.86,0.1489],[18.07,0.1479],[18.26,0.1470],[16.96,0.1455],[17.08,0.1455],[17.45,0.1451],[17.66,0.1445],[17.68,0.1443],[17.91,0.1455],[18.12,0.1447],[18.21,0.1445],[18.49,0.1433],[18.88,0.1445],[18.98,0.1457],[19.65,0.1453],[19.72,0.1466],[19.97,0.1455],[20.36,0.1463],[20.18,0.1468],[16.94,0.1419],[17.10,0.1424],[17.17,0.1409],[17.40,0.1426],[17.56,0.1417],[17.67,0.1419],[17.91,0.1424],[18.13,0.1416],[18.40,0.1406],[18.80,0.1399],[19.13,0.1409],[19.45,0.1419],[19.66,0.1429],[20.06,0.1419],[19.64,0.1399],[17.05,0.1385],[17.12,0.1396],[17.34,0.1375],[17.76,0.1396],[18.07,0.1365],[18.60,0.1367],[18.85,0.1394],[19.29,0.1377],[19.42,0.1375],[19.51,0.1380],[19.91,0.1365],[20.02,0.1370],[17.27,0.1348],[17.47,0.1338],[17.69,0.1341],[17.72,0.1343],[17.03,0.1355],[18.72,0.1344],[18.80,0.1331],[19.06,0.1360],[19.98,0.1346],[20.30,0.1348],[20.20,0.1336],[17.33,0.1328],[18.40,0.1336],[18.84,0.1316],[18.86,0.1323],[19.90,0.1314],[20.17,0.1313],[20.33,0.1336],[20.46,0.1321],[17.35,0.1289],[17.53,0.1295],[18.62,0.1295],[17.88,0.1280],[18.03,0.1302],[18.34,0.1282],[17.32,0.1273],[17.42,0.1270],[17.84,0.1278],[18.03,0.1270],[18.93,0.1263],[19.06,0.1260],[19.31,0.1256],[19.49,0.1253],[19.72,0.1258],[19.98,0.1263],[20.07,0.1266],[20.11,0.1248],[20.17,0.1234],[19.89,0.1219],[20.03,0.1238],[17.04,0.1238],[17.45,0.1235],[17.51,0.1227],[17.99,0.1248],[18.02,0.1238],[19.01,0.1235],[18.80,0.1243],[17.25,0.1207],[17.75,0.1195],[17.59,0.1193],[17.93,0.1207],[18.37,0.1209],[18.71,0.1195],[19.21,0.1183],[19.44,0.1178],[19.65,0.1200],[19.97,0.1182],[20.12,0.1200],[20.14,0.1170],[20.22,0.1170],[20.25,0.1158],[17.07,0.1178],[17.20,0.1173],[17.37,0.1164],[17.85,0.1172],[18.01,0.1153],[18.07,0.1153],[18.40,0.1175],[18.46,0.1175],[18.63,0.1170],[18.71,0.1180],[18.85,0.1162],[18.58,0.1146],[18.64,0.1131],[17.01,0.1151],[17.03,0.1121],[17.19,0.1121],[17.40,0.1123],[17.79,0.1141],[17.90,0.1148],[17.99,0.1153],[18.50,0.1131],[19.95,0.1121],[20.02,0.1133],[20.17,0.1121],[17.49,0.1078],[17.66,0.1048],[17.48,0.1063],[17.99,0.1089],[18.28,0.1078],[18.34,0.1092],[18.50,0.1112],[18.85,0.1112],[18.90,0.1088],[19.12,0.1102],[19.37,0.1080],[19.44,0.1107],[19.23,0.1058],[19.69,0.1078],[19.73,0.1071],[19.86,0.1058],[19.95,0.1065],[20.03,0.1063],[20.15,0.1092],[19.67,0.1039],[19.78,0.1046],[19.99,0.1039],[20.07,0.1029],[20.15,0.1058],[17.12,0.1063],[17.23,0.1068],[17.10,0.1039],[17.32,0.1048],[17.42,0.1053],[17.63,0.1053],[17.90,0.1044],[17.99,0.1036],[18.06,0.1012],[18.27,0.1073],[18.43,0.1041],[18.50,0.1041],[18.77,0.1058],[19.01,0.1036],[19.21,0.1044],[19.32,0.1042],
[16.93,0.1019],[16.98,0.1009],[17.20,0.1014],[17.38,0.0990],[17.58,0.1014],[17.82,0.1039],[17.91,0.1036],[18.19,0.0992],[18.25,0.0990],[18.37,0.0995],[18.46,0.0995],[18.69,0.0997],[18.77,0.0975],[19.01,0.1009],[19.08,0.0990],[19.32,0.1004],[19.50,0.0995],[19.63,0.1009],[19.72,0.1019],[19.89,0.1014],[19.95,0.1004],[19.91,0.0980],[20.02,0.0990],[19.84,0.0980],[19.73,0.0966],[19.68,0.0937],[19.79,0.0937],[19.86,0.0932],[19.94,0.0937],[19.55,0.0961],[19.41,0.0958],[19.27,0.0946],[19.14,0.0951],[18.95,0.0961],[18.56,0.0956],[18.46,0.0956],[18.33,0.0971],[18.07,0.0975],[17.92,0.0966],[17.81,0.0956],[17.59,0.0971],[17.55,0.0946],[17.32,0.0966],[17.25,0.0946],[17.06,0.0946],[16.93,0.0937],
[16.99,0.0927],[17.08,0.0907],[17.17,0.0917],[17.27,0.0902],[17.37,0.0917],[17.49,0.0897],[17.60,0.0917],[17.71,0.0893],[17.80,0.0912],[17.94,0.0897],[18.02,0.0927],[18.12,0.0888],[18.23,0.0907],[18.34,0.0893],[18.45,0.0927],[18.54,0.0888],[18.64,0.0917],[18.76,0.0897],[18.86,0.0927],[18.95,0.0888],[19.06,0.0917],[19.16,0.0883],[19.27,0.0897],[19.38,0.0878],[19.49,0.0907],[19.58,0.0878],[19.68,0.0897],[19.78,0.0878],[19.86,0.0897],[19.90,0.0870],[19.84,0.0849],[19.71,0.0849],[19.52,0.0849],[19.34,0.0839],[19.19,0.0849],[19.01,0.0849],[18.85,0.0839],[18.69,0.0858],[18.54,0.0839],[18.38,0.0849],[18.23,0.0858],[18.07,0.0844],[17.91,0.0849],[17.76,0.0849],[17.60,0.0853],[17.45,0.0844],[17.29,0.0858],[17.14,0.0849],[16.98,0.0858],
[16.95,0.0819],[17.06,0.0795],[17.16,0.0824],[17.24,0.0780],[17.36,0.0810],[17.45,0.0771],[17.55,0.0819],[17.64,0.0785],[17.73,0.0814],[17.84,0.0771],[17.93,0.0805],[18.02,0.0776],[18.11,0.0819],[18.20,0.0790],[18.29,0.0766],[18.38,0.0805],[18.49,0.0780],[18.58,0.0814],[18.67,0.0771],[18.76,0.0800],[18.85,0.0771],[18.93,0.0819],[19.01,0.0780],[19.37,0.0810],[19.45,0.0780],[19.52,0.0814],[19.60,0.0771],[19.68,0.0805],[19.73,0.0761],[19.65,0.0746],[19.55,0.0751],[19.42,0.0741],[19.32,0.0756],[19.21,0.0746],[19.11,0.0761],[18.95,0.0746],[18.80,0.0741],[18.62,0.0746],[18.43,0.0741],[18.25,0.0746],[18.07,0.0741],[17.89,0.0746],[17.71,0.0741],[17.53,0.0746],[17.34,0.0741],[17.16,0.0746],[17.01,0.0751],
[16.97,0.0712],[17.04,0.0683],[17.14,0.0722],[17.21,0.0693],[17.29,0.0668],[17.38,0.0717],[17.46,0.0688],[17.54,0.0664],[17.62,0.0712],[17.69,0.0683],[17.78,0.0659],[17.86,0.0722],[17.94,0.0693],[18.02,0.0664],[18.10,0.0712],[18.17,0.0683],[18.27,0.0659],[18.34,0.0722],[18.42,0.0688],[18.51,0.0664],[18.59,0.0712],[18.67,0.0683],[18.75,0.0654],[18.82,0.0702],[18.90,0.0673],[18.98,0.0712],[19.19,0.0722],[19.27,0.0693],[19.37,0.0712],[19.47,0.0698],[19.58,0.0722],[19.40,0.0673],
[16.95,0.0625],[17.03,0.0596],[17.11,0.0566],[17.19,0.0620],[17.27,0.0586],[17.34,0.0556],[17.42,0.0615],[17.50,0.0581],[17.58,0.0552],[17.66,0.0625],[17.73,0.0590],[17.81,0.0561],[17.89,0.0615],[17.97,0.0586],[18.04,0.0556],[18.12,0.0625],[18.20,0.0590],[18.28,0.0561],[18.36,0.0615],[18.43,0.0586],[18.51,0.0552],[18.59,0.0620],[18.67,0.0586],[18.75,0.0561],[18.82,0.0610],[18.90,0.0581],[18.98,0.0610],[19.14,0.0634],[19.24,0.0639],[18.95,0.0556],
[16.97,0.0537],[17.06,0.0508],[17.15,0.0527],[17.24,0.0498],[17.34,0.0532],[17.43,0.0503],[17.54,0.0527],[17.63,0.0498],[17.72,0.0537],[17.81,0.0508],[17.91,0.0527],[18.01,0.0493],[18.10,0.0522],[18.20,0.0488],[18.29,0.0517],[18.38,0.0483],[18.49,0.0513],[18.59,0.0478],[18.69,0.0508],[18.62,0.0537]];
const varDotsCore = [[16.36,0.0445],[16.52,0.0450],[16.66,0.0452],[16.82,0.0458],[16.46,0.0478],[16.62,0.0482],[16.76,0.0487],[16.92,0.0490],[16.40,0.0515],[16.55,0.0520],[16.70,0.0516],[16.86,0.0522],[16.30,0.0555],[16.50,0.0560],[16.65,0.0552],[16.80,0.0560],[16.45,0.0600],[16.60,0.0620],[16.77,0.0628],[16.90,0.0575],[17.02,0.0475],[17.18,0.0480],[17.30,0.0490],[17.47,0.0482],[17.60,0.0485],[17.76,0.0490],[17.88,0.0480],[18.05,0.0483],[18.15,0.0478],[18.33,0.0480],[18.45,0.0488],[18.62,0.0495],[17.10,0.0545],[17.28,0.0560],[17.40,0.0545],[17.56,0.0565],[17.68,0.0550],[17.85,0.0570],[17.95,0.0545],[18.14,0.0570],[18.24,0.0540],[18.40,0.0568],[18.55,0.0540],[18.70,0.0572],[18.85,0.0545],[17.05,0.0650],[17.22,0.0640],[17.40,0.0655],[17.58,0.0640],[17.75,0.0635],[17.90,0.0650],[18.06,0.0640],[18.22,0.0650],[18.38,0.0638],[18.55,0.0645],[18.72,0.0630],[18.88,0.0640],[19.05,0.0600],[17.12,0.0735],[17.30,0.0700],[17.48,0.0730],[17.66,0.0700],[17.83,0.0735],[18.00,0.0700],[18.18,0.0735],[18.35,0.0700],[18.52,0.0735],[18.70,0.0700],[18.88,0.0730],[19.07,0.0690],[19.22,0.0640],[19.12,0.0600],
[16.42,0.0448],[16.58,0.0441],[16.71,0.0452],[16.86,0.0446],[17.00,0.0455],[17.13,0.0449],[17.27,0.0453],[17.41,0.0461],[17.55,0.0467],[17.68,0.0474],[17.82,0.0474],[17.97,0.0480],[18.10,0.0486],[18.24,0.0493],[18.38,0.0498],[18.52,0.0506],
[16.20,0.0478],[16.35,0.0471],[16.50,0.0480],[16.64,0.0474],[16.79,0.0469],[16.93,0.0477],[17.06,0.0482],[17.20,0.0472],[17.34,0.0479],[17.48,0.0470],[17.62,0.0476],[17.75,0.0483],[17.90,0.0493],[18.04,0.0499],[18.18,0.0508],[18.31,0.0515],[18.46,0.0521],[18.60,0.0526],[18.74,0.0512],
[16.15,0.0512],[16.28,0.0505],[16.44,0.0515],[16.60,0.0508],[16.73,0.0518],[16.88,0.0503],[17.02,0.0511],[17.16,0.0517],[17.29,0.0506],[17.44,0.0514],[17.58,0.0502],[17.71,0.0516],[17.86,0.0509],[18.00,0.0513],[18.13,0.0534],[18.27,0.0519],[18.42,0.0537],[18.56,0.0515],[18.70,0.0542],[18.84,0.0530],
[16.08,0.0543],[16.22,0.0536],[16.37,0.0547],[16.52,0.0539],[16.67,0.0545],[16.82,0.0534],[16.95,0.0548],[17.09,0.0541],[17.23,0.0535],[17.36,0.0546],[17.51,0.0538],[17.65,0.0544],[17.79,0.0533],[17.93,0.0549],[18.07,0.0540],[18.21,0.0537],[18.35,0.0546],[18.49,0.0542],[18.63,0.0550],[18.78,0.0548],[18.92,0.0556],
[16.12,0.0574],[16.30,0.0566],[16.46,0.0571],[16.62,0.0578],[16.76,0.0565],[16.91,0.0573],[17.05,0.0568],[17.20,0.0577],[17.33,0.0564],[17.47,0.0572],[17.61,0.0579],[17.75,0.0567],[17.89,0.0575],[18.02,0.0569],[18.16,0.0576],[18.30,0.0563],[18.45,0.0574],[18.60,0.0570],[18.73,0.0578],[18.88,0.0566],[19.02,0.0575],
[16.20,0.0603],[16.40,0.0597],[16.55,0.0606],[16.70,0.0599],[16.85,0.0594],[17.00,0.0605],[17.14,0.0598],[17.28,0.0607],[17.43,0.0595],[17.57,0.0602],[17.71,0.0608],[17.84,0.0596],[17.98,0.0604],[18.12,0.0600],[18.26,0.0593],[18.40,0.0606],[18.54,0.0598],[18.68,0.0603],[18.82,0.0609],[18.96,0.0601],[19.10,0.0612],
[16.65,0.0642],[16.83,0.0636],[17.00,0.0645],[17.18,0.0638],[17.35,0.0647],[17.53,0.0634],[17.70,0.0644],[17.88,0.0639],[18.05,0.0646],[18.23,0.0633],[18.40,0.0641],[18.58,0.0648],[18.75,0.0637],[18.93,0.0643],[19.10,0.0655],[19.28,0.0650],
[16.72,0.0693],[16.90,0.0687],[17.08,0.0696],[17.26,0.0684],[17.43,0.0691],[17.60,0.0698],[17.78,0.0686],[17.96,0.0694],[18.13,0.0689],[18.30,0.0697],[18.48,0.0683],[18.66,0.0692],[18.83,0.0688],[19.00,0.0695],[19.18,0.0685],[19.36,0.0699],[19.50,0.0705],
[16.80,0.0742],[17.00,0.0736],[17.20,0.0745],[17.40,0.0738],[17.60,0.0747],[17.80,0.0734],[18.00,0.0744],[18.20,0.0739],[18.40,0.0746],[18.60,0.0733],[18.80,0.0741],[19.00,0.0748],[19.20,0.0737],[19.40,0.0743],[19.58,0.0752],
[16.90,0.0792],[17.15,0.0785],[17.40,0.0796],[17.65,0.0788],[17.90,0.0794],[18.15,0.0783],[18.40,0.0797],[18.65,0.0789],[18.90,0.0786],[19.15,0.0795],[19.40,0.0784],[19.65,0.0800],
[17.00,0.0842],[17.30,0.0836],[17.60,0.0845],[17.90,0.0838],[18.20,0.0847],[18.50,0.0834],[18.80,0.0844],[19.10,0.0839],[19.40,0.0846],[19.70,0.0850],[19.85,0.0860],
[18.85,0.0470],[18.95,0.0490],[19.05,0.0510],[19.15,0.0530],[19.25,0.0565],[19.35,0.0600],[19.45,0.0640],[19.55,0.0680],[19.65,0.0725],[19.75,0.0790],[19.85,0.0840],[19.95,0.0910],[20.05,0.0975],[20.15,0.1050],[19.00,0.0540],[19.20,0.0585],[19.40,0.0650],[19.60,0.0720],[19.80,0.0810],[20.00,0.0960],[20.10,0.1030],[19.30,0.0620],[19.50,0.0700],[19.70,0.0775],[19.90,0.0880],[19.62,0.0860],[19.72,0.0900],[19.82,0.0950],[19.92,0.0990],[20.02,0.1030],[19.55,0.0820],[19.68,0.0830],[19.85,0.0905],[19.98,0.1010],[20.08,0.1070]];

// ---------------- CHART ----------------
const FONT = '"Liberation Serif", "Times New Roman", serif';
const nmGreen = 'Guidry(2021) fit eDR3';
const nmRed = 'VARINDEX eDR3 > 0.00';
const nmInit = 'initial sample';
const nmVar = 'variable sample';
const nmBur = 'Burdge(2020)';
const starPath = 'path://M50,0 L61.2,34.5 L97.6,34.5 L68.2,55.9 L79.4,90.5 L50,69.1 L20.6,90.5 L31.8,55.9 L2.4,34.5 L38.8,34.5 Z';

const zip = (a, b) => a.map((v, i) => [v, b[i]]);
const redLinePts = zip(redLineG, redLineV);
const greenLinePts = zip(greenLineG, greenLineV);
const burdgePts = zip(burdgeG, burdgeV);
const varDots = [].concat(varDotsLeft, varDotsLow, varDotsMid, varDotsUpper, varDotsRight, varDotsDense, varDotsCore);

const grayPoly = grayLower.concat(grayTop.slice().reverse());
const midLo = grayMidTop[0][0], midHi = grayMidTop[grayMidTop.length - 1][0];
const grayMidPoly = grayMidTop.concat(grayTop.filter(p => p[0] >= midLo && p[0] <= midHi).reverse());
const coreLo = redCoreTop[0][0], coreHi = redCoreTop[redCoreTop.length - 1][0];
const corePoly = redCoreTop.concat(redLinePts.filter(p => p[0] > coreLo && p[0] < coreHi).reverse());

function polySeries(name, pts, color, z) {
  return {
    name: name, type: 'custom', coordinateSystem: 'cartesian2d', xAxisIndex: 0, yAxisIndex: 0,
    z: z, silent: true, clip: true, data: [pts[0]],
    renderItem: function (params, api) {
      return { type: 'polygon', shape: { points: pts.map(p => api.coord(p)), smooth: 0 }, style: { fill: color } };
    }
  };
}

const tickStyle = { color: '#000', width: 4 };
const minorStyle = { color: '#000', width: 3 };
const xBase = { type: 'value', min: 8, max: 21, splitLine: { show: false }, minorSplitLine: { show: false } };
const yBase = { type: 'value', min: 0, max: 0.25, interval: 0.05, splitLine: { show: false } };

const chart = echarts.init(document.getElementById('c'), null, { renderer: 'canvas', width: 2657, height: 2144 });
chart.setOption({
  animation: false,
  backgroundColor: '#ffffff',
  grid: { left: 304, right: 29, top: 56, bottom: 239, containLabel: false },
  xAxis: [
    Object.assign({}, xBase, {
      position: 'bottom', interval: 2,
      axisLine: { show: true, lineStyle: tickStyle },
      axisTick: { show: true, inside: true, length: 30, lineStyle: tickStyle },
      axisLabel: { show: true, fontFamily: FONT, fontSize: 70, color: '#000', margin: 20, showMaxLabel: false,
        formatter: v => (xTicks.indexOf(v) >= 0 ? String(v) : '') },
      name: '{rm|G (}{it|mag}{rm|)}', nameLocation: 'middle', nameGap: 100,
      nameTextStyle: { rich: {
        rm: { fontFamily: FONT, fontSize: 108, color: '#000' },
        it: { fontFamily: FONT, fontSize: 108, fontStyle: 'italic', color: '#000' } } }
    }),
    Object.assign({}, xBase, {
      position: 'top', interval: 2,
      axisLine: { show: true, lineStyle: tickStyle },
      axisTick: { show: true, inside: true, length: 30, lineStyle: tickStyle },
      axisLabel: { show: false }
    }),
    Object.assign({}, xBase, {
      position: 'bottom', interval: 0.5,
      axisLine: { show: false },
      axisTick: { show: true, inside: true, length: 15, lineStyle: minorStyle },
      axisLabel: { show: false }
    }),
    Object.assign({}, xBase, {
      position: 'top', interval: 0.5,
      axisLine: { show: false },
      axisTick: { show: true, inside: true, length: 15, lineStyle: minorStyle },
      axisLabel: { show: false }
    })
  ],
  yAxis: [
    Object.assign({}, yBase, {
      position: 'left',
      axisLine: { show: true, lineStyle: tickStyle },
      axisTick: { show: true, inside: true, length: 30, lineStyle: tickStyle },
      minorTick: { show: true, splitNumber: 5, length: 15, lineStyle: minorStyle },
      axisLabel: { show: true, fontFamily: FONT, fontSize: 70, color: '#000', margin: 24,
        formatter: v => { const t = yTicks.find(k => Math.abs(k - v) < 1e-9); return t === undefined ? '' : t.toFixed(2); } }
    }),
    Object.assign({}, yBase, {
      position: 'right',
      axisLine: { show: true, lineStyle: tickStyle },
      axisTick: { show: true, inside: true, length: 30, lineStyle: tickStyle },
      minorTick: { show: true, splitNumber: 5, length: 15, lineStyle: minorStyle },
      axisLabel: { show: false }
    })
  ],
  legend: {
    orient: 'vertical', left: 331, top: 86, selectedMode: false,
    padding: [17, 72, 28, 38], itemGap: 25, itemWidth: 90, itemHeight: 40,
    backgroundColor: 'rgba(255,255,255,0.8)', borderColor: '#cccccc', borderWidth: 4, borderRadius: 14,
    z: 20,
    data: [
      { name: nmGreen, icon: 'path://M0,0 M90,40 M4,15.5 L35,15.5 L35,24.5 L4,24.5 Z M48,15.5 L79,15.5 L79,24.5 L48,24.5 Z', itemStyle: { color: '#006400', borderWidth: 0, opacity: 1 } },
      { name: nmRed, icon: 'path://M0,0 M90,40 M0,15.5 L90,15.5 L90,24.5 L0,24.5 Z', itemStyle: { color: 'rgba(255,0,0,0.5)', borderWidth: 0, opacity: 1 } },
      { name: nmInit, icon: 'path://M0,0 M40,40 M17.5,20 A2.5,2.5 0 1 1 22.5,20 A2.5,2.5 0 1 1 17.5,20 Z', itemStyle: { color: '#a0a0a0', borderWidth: 0, opacity: 1 } },
      { name: nmVar, icon: 'path://M0,0 M40,40 M15.5,20 A4.5,4.5 0 1 1 24.5,20 A4.5,4.5 0 1 1 15.5,20 Z', itemStyle: { color: '#8B0000', borderWidth: 0, opacity: 1 } },
      { name: nmBur, icon: starPath, itemStyle: { color: '#00008B', borderWidth: 0, opacity: 1 } }
    ],
    formatter: function (name) {
      if (name === nmGreen) return '{sp| }{it|Guidry}{rm|(2021) }{it|fit}{sub|eDR3}';
      if (name === nmRed) return '{sp| }{it|VARINDEX}{sub|eDR3}{rm| > 0.00}';
      return '{sp| }{rm|' + name + '}';
    },
    textStyle: {
      fontFamily: FONT, fontSize: 62, color: '#000',
      rich: {
        sp: { width: 55, fontSize: 62, lineHeight: 62 },
        rm: { fontFamily: FONT, fontSize: 62, lineHeight: 62, color: '#000' },
        it: { fontFamily: FONT, fontSize: 62, lineHeight: 62, fontStyle: 'italic', color: '#000' },
        sub: { fontFamily: FONT, fontSize: 44, lineHeight: 24, fontStyle: 'italic', verticalAlign: 'bottom', color: '#000' }
      }
    }
  },
  graphic: [{
    type: 'group', x: 110, y: 982, rotation: Math.PI / 2, silent: true,
    children: [
      { type: 'text', x: -299, y: -33, style: { text: 'σ', font: 'italic 112px ' + FONT, fill: '#000', align: 'left', verticalAlign: 'middle', textAlign: 'left', textVerticalAlign: 'middle' } },
      { type: 'text', x: -244, y: -6, style: { text: 'G', font: 'italic 74px ' + FONT, fill: '#000', align: 'left', verticalAlign: 'middle', textAlign: 'left', textVerticalAlign: 'middle' } },
      { type: 'polyline', shape: { points: [[-200, -22], [-186, -30], [-158, 32], [-101, -74], [72, -74]] }, style: { stroke: '#000', lineWidth: 6, fill: null, lineJoin: 'miter' } },
      { type: 'text', x: -97, y: -33, style: { text: 'n', font: 'italic 112px ' + FONT, fill: '#000', align: 'left', verticalAlign: 'middle', textAlign: 'left', textVerticalAlign: 'middle' } },
      { type: 'text', x: -32, y: -4, style: { text: 'obs', font: '74px ' + FONT, fill: '#000', align: 'left', verticalAlign: 'middle', textAlign: 'left', textVerticalAlign: 'middle' } },
      { type: 'text', x: 84, y: -33, style: { text: '/', font: '112px ' + FONT, fill: '#000', align: 'left', verticalAlign: 'middle', textAlign: 'left', textVerticalAlign: 'middle' } },
      { type: 'polyline', shape: { points: [[189, -82], [165, -28], [189, 26]] }, style: { stroke: '#000', lineWidth: 5, fill: null } },
      { type: 'text', x: 196, y: -33, style: { text: 'G', font: '104px ' + FONT, fill: '#000', align: 'left', verticalAlign: 'middle', textAlign: 'left', textVerticalAlign: 'middle' } },
      { type: 'polyline', shape: { points: [[275, -82], [299, -28], [275, 26]] }, style: { stroke: '#000', lineWidth: 5, fill: null } }
    ]
  }],
  series: [
    polySeries('initial sample (sparse band)', grayMidPoly, '#c2c2c2', 1),
    polySeries('initial sample (dense band)', grayPoly, '#808080', 1),
    {
      name: nmInit, type: 'scatter', data: grayDots, z: 2, silent: true,
      symbol: 'circle', symbolSize: 6,
      itemStyle: { color: 'rgba(0,0,0,0)', borderColor: '#808080', borderWidth: 1.4, opacity: 1 }
    },
    polySeries('variable sample (core)', corePoly, '#8B0000', 3),
    {
      name: nmVar, type: 'scatter', data: varDots, z: 3, silent: true,
      symbol: 'circle', symbolSize: 11, itemStyle: { color: '#8B0000', opacity: 1 }
    },
    {
      name: nmGreen, type: 'line', data: greenLinePts, z: 4, silent: true,
      symbol: 'none', smooth: 0.35,
      lineStyle: { color: '#006400', width: 8, type: [31, 13] }, itemStyle: { color: '#006400' }
    },
    {
      name: nmRed, type: 'line', data: redLinePts, z: 4, silent: true,
      symbol: 'none', smooth: 0.35,
      lineStyle: { color: 'rgba(255,0,0,0.5)', width: 9 }, itemStyle: { color: 'rgba(255,0,0,0.5)' }
    },
    {
      name: nmBur, type: 'scatter', data: burdgePts, z: 6, silent: true,
      symbol: starPath, symbolSize: 46, symbolKeepAspect: true, itemStyle: { color: '#00008B', opacity: 1 }
    }
  ]
});
</script></body></html>
